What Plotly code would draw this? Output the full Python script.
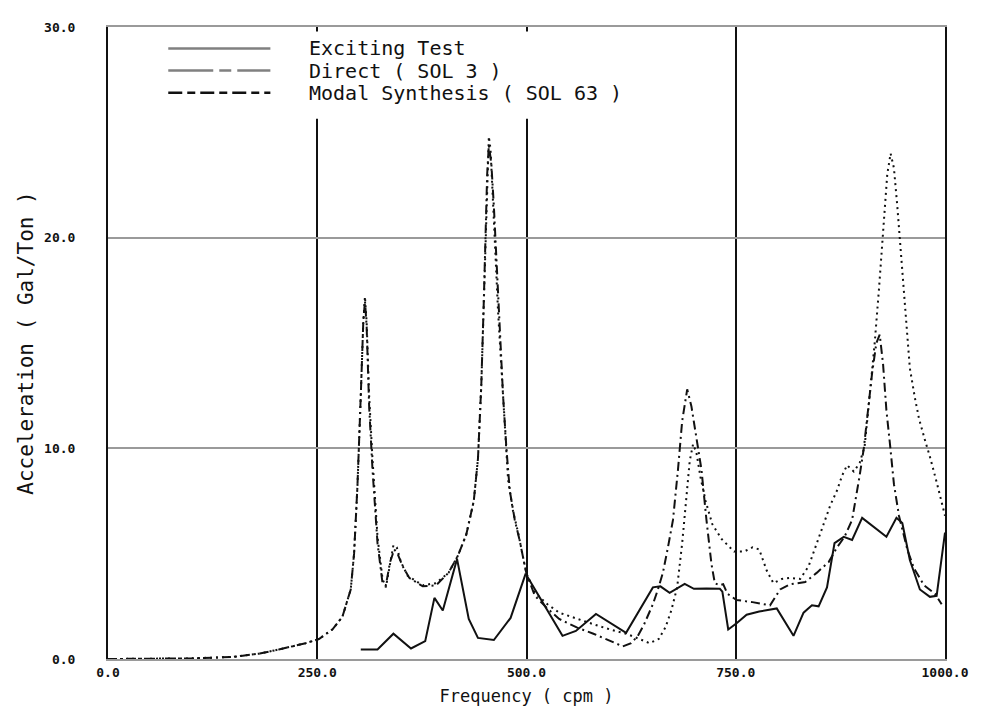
import plotly.graph_objects as go

# ---------------- data ----------------
freq_test = [302, 322, 341, 362, 379, 390, 400, 417, 431, 442, 461, 481, 499, 521, 543, 559, 583,
             619, 651, 660, 671, 689, 700, 715, 731, 734, 741, 751, 763, 778, 799, 819, 831, 841,
             849, 859, 868, 879, 889, 901, 930, 942, 949, 958, 970, 982, 990, 1000]
acc_test = [0.45, 0.45, 1.2, 0.5, 0.85, 2.9, 2.3, 4.75, 1.9, 1.0, 0.9, 1.95, 4.05, 2.6, 1.1, 1.33, 2.14,
            1.24, 3.4, 3.45, 3.14, 3.57, 3.33, 3.35, 3.33, 3.2, 1.4, 1.7, 2.1, 2.25, 2.4, 1.1, 2.2, 2.55,
            2.5, 3.4, 5.5, 5.8, 5.65, 6.7, 5.8, 6.7, 6.45, 4.7, 3.3, 2.95, 3.0, 6.0]

freq_direct = [0, 100, 150, 180, 204, 236, 252, 268, 280, 290, 294, 298, 302, 305, 307, 309, 312, 316,
               322, 328, 332, 336, 341, 345, 350, 358, 376, 392, 407, 418, 428, 437, 442, 446, 449,
               451, 453, 455, 457, 460, 462, 466, 470, 474, 478, 484, 490, 495, 500, 511, 525, 539,
               560, 580, 600, 619, 635, 647, 658, 666, 673, 680, 686, 691, 695, 699, 703, 708, 714,
               722, 733, 748, 760, 770, 778, 787, 795, 805, 815, 827, 837, 846, 855, 863, 871, 877,
               883, 891, 898, 904, 910, 916, 921, 926, 931, 935, 939, 943, 947, 952, 958, 964, 969,
               976, 982, 990, 996, 1000]
acc_direct = [0.0, 0.03, 0.1, 0.25, 0.45, 0.75, 0.95, 1.4, 2.0, 3.3, 5.0, 8.2, 12.5, 16.0, 17.2, 16.0,
              12.5, 9.5, 5.8, 3.8, 3.4, 4.3, 5.4, 5.3, 4.6, 3.95, 3.5, 3.6, 4.1, 4.9, 5.9, 7.5, 9.5,
              13.0, 17.0, 20.0, 23.0, 24.8, 24.2, 22.0, 20.0, 16.5, 13.8, 10.7, 8.5, 7.0, 6.0, 5.0,
              4.05, 3.1, 2.6, 2.2, 1.9, 1.65, 1.4, 1.2, 0.95, 0.75, 0.95, 1.5, 2.3, 3.4, 5.5, 7.8,
              9.4, 10.2, 9.8, 8.6, 7.5, 6.4, 5.7, 5.1, 5.1, 5.3, 5.2, 4.2, 3.6, 3.8, 3.85, 3.8, 4.4,
              5.4, 6.4, 7.3, 8.0, 8.7, 9.2, 8.9, 9.3, 10.1, 12.5, 15.0, 17.5, 20.5, 23.0, 24.0, 23.3,
              21.5, 19.5, 17.2, 13.8, 12.4, 11.4, 10.4, 9.6, 8.4, 7.4, 6.8]

freq_modal = [0, 100, 150, 180, 204, 236, 252, 268, 280, 290, 294, 298, 302, 305, 307, 309, 312, 316,
              322, 328, 332, 337, 342, 346, 352, 360, 376, 392, 407, 418, 428, 437, 442, 446, 449,
              451, 453, 455, 458, 461, 464, 468, 472, 476, 480, 486, 492, 497, 500, 510, 525, 539,
              560, 580, 600, 615, 625, 633, 640, 651, 657, 663, 669, 675, 681, 686, 692, 697, 703,
              709, 715, 721, 725, 731, 735, 740, 751, 770, 791, 797, 803, 815, 833, 847, 861, 871,
              880, 889, 895, 898, 903, 908, 913, 918, 922, 926, 930, 934, 939, 945, 955, 963, 975,
              988, 996]
acc_modal = [0.0, 0.03, 0.1, 0.25, 0.45, 0.75, 0.95, 1.4, 2.0, 3.3, 5.0, 8.2, 12.5, 16.0, 17.0, 15.8,
             12.0, 9.0, 5.5, 3.6, 3.5, 4.6, 5.2, 5.0, 4.4, 3.85, 3.45, 3.5, 4.1, 4.9, 5.9, 7.5, 9.5,
             13.0, 17.0, 20.0, 23.0, 24.4, 23.5, 21.5, 19.0, 15.5, 12.5, 10.0, 8.0, 6.6, 5.6, 4.6,
             4.05, 3.0, 2.4, 1.9, 1.5, 1.2, 0.85, 0.6, 0.75, 1.1, 1.6, 2.6, 3.3, 4.1, 5.3, 6.6, 9.0,
             11.3, 12.8, 12.0, 10.5, 9.0, 6.6, 4.5, 3.6, 3.5, 3.55, 3.1, 2.8, 2.7, 2.55, 2.9, 3.3,
             3.55, 3.65, 4.1, 4.6, 5.3, 5.8, 6.6, 7.9, 8.7, 10.0, 11.8, 13.6, 15.0, 15.4, 14.0, 11.8,
             10.3, 8.3, 6.8, 5.2, 4.3, 3.5, 3.1, 2.6]

series_names = ["Exciting Test", "Direct ( SOL 3 )", "Modal Synthesis ( SOL 63 )"]

x_ticks = [0, 250, 500, 750, 1000]
x_ticktext = ["0.0", "250.0", "500.0", "750.0", "1000.0"]
y_ticks = [0, 10, 20, 30]
y_ticktext = ["0.0", "10.0", "20.0", "30.0"]

# ---------------- styling ----------------
MONO = "DejaVu Sans Mono"
INK = "#111111"
GREY = "#9a9a9a"
dashes = ["solid", "2px,4px", "9px,4px,2px,4px"]
legend_dashes = ["solid", "45px,6px,12px,6px", "14px,5px,8px,5px"]
legend_colors = ["#808080", "#808080", INK]
legend_rows = [0.966, 0.931, 0.896]   # paper y of legend rows
W, H = 992, 713
M = dict(l=100, r=55, t=14, b=62)

fig = go.Figure()
for fx, fy, name, dash in zip([freq_test, freq_direct, freq_modal],
                              [acc_test, acc_direct, acc_modal], series_names, dashes):
    fig.add_trace(go.Scatter(x=fx, y=fy, mode="lines", name=name, showlegend=False,
                             line=dict(color=INK, width=2, dash=dash)))

# white band that hides the tops of the vertical grid lines behind the legend
fig.add_shape(type="rect", xref="paper", yref="paper", x0=0.01, x1=0.6, y0=0.855, y1=0.993,
              fillcolor="white", line=dict(width=0), layer="above")

# hand-drawn legend (sample lines + real text)
for name, yr, ld, lc in zip(series_names, legend_rows, legend_dashes, legend_colors):
    fig.add_shape(type="line", xref="paper", yref="paper", x0=0.072, x1=0.194, y0=yr, y1=yr,
                  line=dict(color=lc, width=2.5, dash=ld), layer="above")
    fig.add_annotation(xref="paper", yref="paper", x=0.238, y=yr, xanchor="left", yanchor="middle",
                       text=name, showarrow=False, font=dict(family=MONO, size=20, color=INK))

fig.update_layout(
    width=W, height=H,
    margin=M,
    plot_bgcolor="white", paper_bgcolor="white",
    font=dict(family=MONO, color=INK),
    showlegend=False,
    xaxis=dict(range=[0, 1000], tickvals=x_ticks, ticktext=x_ticktext,
               showgrid=True, gridcolor=INK, gridwidth=2,
               zeroline=False, showline=True, mirror=True, linecolor=GREY, linewidth=2,
               ticks="", tickfont=dict(family=MONO, size=13, weight="bold"),
               title=dict(text="Frequency ( cpm )", font=dict(family=MONO, size=17), standoff=12)),
    yaxis=dict(range=[0, 30], tickvals=y_ticks, ticktext=y_ticktext,
               showgrid=True, gridcolor=GREY, gridwidth=2,
               zeroline=False, showline=True, mirror=True, linecolor=INK, linewidth=2,
               ticks="", ticklabelstandoff=28, ticklabeloverflow="allow",
               tickfont=dict(family=MONO, size=13, weight="bold"),
               title=dict(text="Acceleration ( Gal/Ton )", font=dict(family=MONO, size=21), standoff=5)),
)

fig.write_html("out.html")
